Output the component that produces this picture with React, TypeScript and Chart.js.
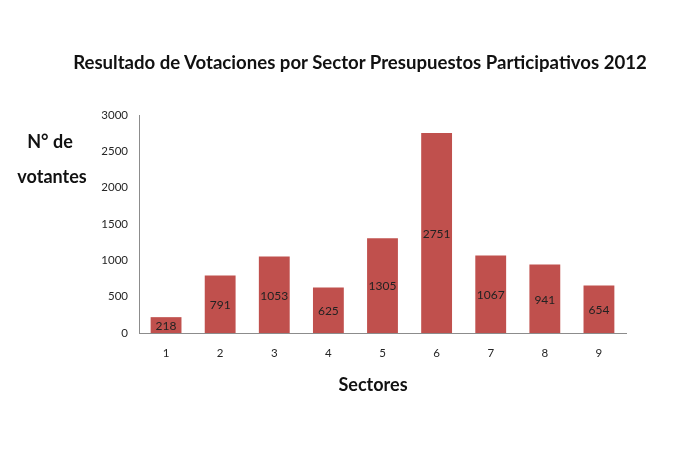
import { useEffect, useRef } from 'react'
import { Chart, registerables } from 'chart.js'

Chart.register(...registerables)

const sectors = ['1', '2', '3', '4', '5', '6', '7', '8', '9']
const votes = [218, 791, 1053, 625, 1305, 2751, 1067, 941, 654]

const FONT = 'Lato, "Open Sans", sans-serif'

// draws the value in the middle of each bar
const barValues = {
  id: 'barValues',
  afterDatasetsDraw(chart: any) {
    const ctx = chart.ctx
    const meta = chart.getDatasetMeta(0)
    ctx.save()
    ctx.font = `12px ${FONT}`
    ctx.fillStyle = '#222'
    ctx.textAlign = 'center'
    ctx.textBaseline = 'middle'
    meta.data.forEach((bar: any, i: number) => {
      const v = chart.data.datasets[0].data[i]
      ctx.fillText(String(v), bar.x, (bar.y + bar.base) / 2 + 1)
    })
    ctx.restore()
  },
}

export default function App() {
  const canvasRef = useRef<HTMLCanvasElement>(null)
  const chartRef = useRef<Chart | null>(null)

  useEffect(() => {
    if (!canvasRef.current) return
    if (chartRef.current) chartRef.current.destroy()

    chartRef.current = new Chart(canvasRef.current, {
      type: 'bar',
      data: {
        labels: sectors,
        datasets: [
          {
            label: 'Votantes',
            data: votes,
            backgroundColor: '#C0504D',
            borderWidth: 0,
            barPercentage: 0.57,
            categoryPercentage: 1,
          },
        ],
      },
      options: {
        responsive: true,
        maintainAspectRatio: false,
        animation: false,
        layout: { padding: { left: 94, right: 74, top: 115, bottom: 0 } },
        plugins: {
          legend: { display: false },
          tooltip: { enabled: false },
          title: { display: false },
        },
        scales: {
          x: {
            grid: { display: false },
            border: { color: '#8c8c8c' },
            ticks: { color: '#262626', font: { family: FONT, size: 11.5 }, padding: 5 },
            afterFit: (scale: any) => {
              scale.height = 121
            },
          },
          y: {
            min: 0,
            max: 3000,
            grid: { display: false, drawTicks: false },
            border: { color: '#8c8c8c' },
            ticks: {
              stepSize: 500,
              color: '#262626',
              font: { family: FONT, size: 11.5 },
              padding: 11,
              callback: (v: any) => String(v),
            },
            afterFit: (scale: any) => {
              scale.width = 45
            },
          },
        },
      },
      plugins: [barValues],
    })

    return () => {
      if (chartRef.current) {
        chartRef.current.destroy()
        chartRef.current = null
      }
    }
  }, [])

  const labelStyle = {
    position: 'absolute' as const,
    fontFamily: FONT,
    fontWeight: 'bold' as const,
    fontSize: 18,
    color: '#111',
    transform: 'translate(-50%, -50%)',
    whiteSpace: 'nowrap' as const,
    lineHeight: 1,
  }

  return (
    <div style={{ position: 'absolute', left: 0, top: 0, width: 700, height: 454, background: '#fff' }}>
      <canvas ref={canvasRef}></canvas>
      <div style={{ ...labelStyle, left: 360, top: 62, fontSize: 18.6 }}>
        Resultado de Votaciones por Sector Presupuestos Participativos 2012
      </div>
      <div style={{ ...labelStyle, left: 50, top: 141 }}>N° de</div>
      <div style={{ ...labelStyle, left: 52, top: 176 }}>votantes</div>
      <div style={{ ...labelStyle, left: 373, top: 384 }}>Sectores</div>
    </div>
  )
}
